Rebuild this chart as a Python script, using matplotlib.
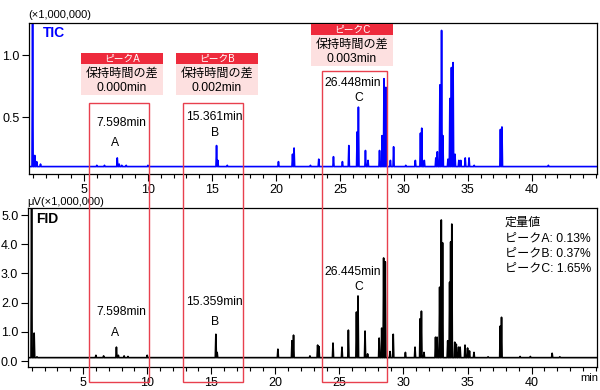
"""
GC-MS (TIC) vs GC-FID chromatogram comparison, retention time of peaks A/B/C.
"""
import matplotlib
matplotlib.use("Agg")
import matplotlib.pyplot as plt
from matplotlib.patches import Rectangle
from matplotlib.ticker import MultipleLocator

plt.rcParams["font.family"] = ["Liberation Sans", "Noto Sans CJK JP", "DejaVu Sans"]

# ── Data ──────────────────────────────────────────────────────────────────────
tic_base = 0.10
tic_times = [0.98, 1.15, 1.3, 1.6, 6.0, 6.6, 7.60, 7.75, 7.95, 8.3, 10.0,
             15.36, 15.46, 16.2, 20.2, 21.3, 21.42, 22.7, 23.35, 24.5, 25.2,
             25.7, 26.35, 26.45, 27.0, 27.2, 28.1, 28.3, 28.45, 28.6, 28.95,
             29.2, 30.15, 30.9, 31.3, 31.4, 31.6, 32.5, 32.62, 32.82, 32.95,
             33.05, 33.45, 33.6, 33.72, 33.85, 34.0, 34.3, 34.45, 34.8, 35.1,
             35.5, 37.55, 37.67, 41.3]
tic_heights = [1.30, 0.19, 0.14, 0.12, 0.11, 0.11, 0.17, 0.12, 0.11, 0.11, 0.11,
               0.27, 0.15, 0.11, 0.14, 0.20, 0.25, 0.11, 0.16, 0.18, 0.14,
               0.27, 0.38, 0.58, 0.23, 0.15, 0.23, 0.35, 0.81, 0.74, 0.15,
               0.26, 0.11, 0.15, 0.37, 0.41, 0.15, 0.17, 0.22, 0.76, 1.20,
               0.35, 0.16, 0.65, 0.90, 0.94, 0.20, 0.15, 0.15, 0.17, 0.17,
               0.11, 0.40, 0.42, 0.11]

fid_base = 0.12
fid_times = [0.98, 1.18, 1.4, 6.0, 6.6, 7.60, 7.75, 8.2, 8.5, 10.0,
             15.36, 15.46, 20.2, 21.3, 21.42, 22.7, 23.3, 23.4, 24.5, 25.2,
             25.7, 26.33, 26.45, 27.0, 27.2, 28.1, 28.3, 28.45, 28.58, 28.95,
             29.2, 30.15, 30.9, 31.3, 31.4, 31.6, 32.5, 32.62, 32.82, 32.95,
             33.05, 33.45, 33.6, 33.68, 33.77, 34.0, 34.12, 34.3, 34.42, 34.8,
             35.0, 35.15, 35.5, 36.6, 37.55, 37.65, 39.1, 39.9, 41.6, 42.2]
fid_heights = [5.40, 0.96, 0.15, 0.20, 0.18, 0.48, 0.20, 0.18, 0.16, 0.20,
               0.92, 0.30, 0.41, 0.70, 0.89, 0.18, 0.55, 0.50, 0.62, 0.48,
               1.06, 1.68, 2.23, 1.03, 0.25, 0.79, 1.13, 3.53, 3.40, 0.33,
               0.92, 0.30, 0.48, 1.45, 1.71, 0.30, 0.82, 0.82, 2.53, 4.83,
               4.05, 0.70, 2.70, 4.08, 4.69, 0.65, 0.58, 0.48, 0.48, 0.55,
               0.45, 0.35, 0.30, 0.15, 1.20, 1.50, 0.16, 0.16, 0.27, 0.15]

peak_names = ["A", "B", "C"]
tic_rt = ["7.598min", "15.361min", "26.448min"]
fid_rt = ["7.598min", "15.359min", "26.445min"]
rt_diff = ["0.000min", "0.002min", "0.003min"]
quant = ["0.13%", "0.37%", "1.65%"]

RED = "#ee2a3c"
PINK = "#fde0e0"
EDGE = "#e8404e"

W, H = 600, 390


def fx(px):
    return px / W


def fy(py):
    return 1 - py / H


def trace(times, heights, base, w=0.045):
    """Stick-style chromatogram: each peak drawn as a narrow spike on the baseline."""
    xs, ys = [0.0], [base]
    for t, h in sorted(zip(times, heights)):
        xs += [t - w, t, t + w]
        ys += [base, h, base]
    xs.append(46.0)
    ys.append(base)
    return xs, ys


def style_axis(ax):
    ax.set_xlim(0.7, 45.1)
    ax.set_xticks([5, 10, 15, 20, 25, 30, 35, 40])
    ax.set_xticklabels(["5", "10", "15", "20", "25", "30", "35", "40"])
    ax.xaxis.set_minor_locator(MultipleLocator(1))
    ax.tick_params(axis="both", which="major", direction="out", length=5,
                   width=0.8, labelsize=9, pad=2)
    ax.tick_params(axis="both", which="minor", direction="out", length=3, width=0.8)
    for s in ax.spines.values():
        s.set_linewidth(0.9)


fig = plt.figure(figsize=(6, 3.9), dpi=100)

# ── TIC panel ─────────────────────────────────────────────────────────────────
ax1 = fig.add_axes([fx(29), fy(174), fx(568), 151 / H])
x, y = trace(tic_times, tic_heights, tic_base)
ax1.plot(x, y, color="#0000ff", lw=1.2)
ax1.set_ylim(0.04, 1.26)
ax1.set_yticks([0.5, 1.0])
ax1.set_yticklabels(["0.5", "1.0"])
style_axis(ax1)

# ── FID panel ─────────────────────────────────────────────────────────────────
ax2 = fig.add_axes([fx(28), fy(367), fx(569), 159 / H])
x, y = trace(fid_times, fid_heights, fid_base)
ax2.plot(x, y, color="black", lw=1.2)
ax2.set_ylim(-0.2, 5.24)
ax2.set_yticks([0, 1, 2, 3, 4, 5])
ax2.set_yticklabels(["0.0", "1.0", "2.0", "3.0", "4.0", "5.0"])
style_axis(ax2)

# ── Axis captions ─────────────────────────────────────────────────────────────
fig.text(fx(28), fy(15), "(×1,000,000)", fontsize=8, va="center", ha="left")
fig.text(fx(27), fy(202), "μV(×1,000,000)", fontsize=8, va="center", ha="left")
fig.text(fx(43), fy(33), "TIC", fontsize=10, fontweight="bold", color="#0000ff",
         va="center", ha="left")
fig.text(fx(36), fy(219), "FID", fontsize=10, fontweight="bold", color="black",
         va="center", ha="left")
fig.text(fx(589), fy(378), "min", fontsize=8, va="center", ha="center")

# ── Peak boxes (spanning both panels) ─────────────────────────────────────────
box_x = [(89, 149), (183, 243), (322, 387)]
box_top = [103, 103, 71]
for (x0, x1), top in zip(box_x, box_top):
    fig.add_artist(Rectangle((fx(x0), fy(382)), fx(x1 - x0), (382 - top) / H,
                             transform=fig.transFigure, fill=False,
                             edgecolor=EDGE, lw=1.0, zorder=5))

# ── Retention-time difference labels ─────────────────────────────────────────
lab_x = [(81, 163), (176, 258), (311, 393)]
lab_top = [53, 53, 24]
for (x0, x1), top, name, diff in zip(lab_x, lab_top, peak_names, rt_diff):
    cx = (x0 + x1) / 2
    fig.add_artist(Rectangle((fx(x0), fy(top + 11)), fx(x1 - x0), 11 / H,
                             transform=fig.transFigure, facecolor=RED,
                             edgecolor="none", zorder=4))
    fig.add_artist(Rectangle((fx(x0), fy(top + 42)), fx(x1 - x0), 31 / H,
                             transform=fig.transFigure, facecolor=PINK,
                             edgecolor="none", zorder=4))
    fig.text(fx(cx), fy(top + 5.5), "ピーク" + name, fontsize=7, color="white",
             ha="center", va="center", zorder=6)
    fig.text(fx(cx), fy(top + 21), "保持時間の差", fontsize=8.7,
             ha="center", va="center", zorder=6)
    fig.text(fx(cx), fy(top + 35), diff, fontsize=8.7,
             ha="center", va="center", zorder=6)

# ── Retention times above the peaks ──────────────────────────────────────────
rt_cx = [121, 214, 353]
let_cx = [115.5, 215, 359]
tic_rt_y = [123, 117, 83]
tic_let_y = [143, 133, 98]
fid_rt_y = [312, 302, 272]
fid_let_y = [333, 322, 287]
for i in range(3):
    fig.text(fx(rt_cx[i]), fy(tic_rt_y[i]), tic_rt[i], fontsize=8.7,
             ha="center", va="center", zorder=6)
    fig.text(fx(let_cx[i]), fy(tic_let_y[i]), peak_names[i], fontsize=8.7,
             ha="center", va="center", zorder=6)
    fig.text(fx(rt_cx[i]), fy(fid_rt_y[i]), fid_rt[i], fontsize=8.7,
             ha="center", va="center", zorder=6)
    fig.text(fx(let_cx[i]), fy(fid_let_y[i]), peak_names[i], fontsize=8.7,
             ha="center", va="center", zorder=6)

# ── Quantitative values ───────────────────────────────────────────────────────
fig.text(fx(505), fy(223), "定量値", fontsize=8.7, ha="left", va="center")
for i, (name, q) in enumerate(zip(peak_names, quant)):
    fig.text(fx(505), fy(238 + 15 * i), f"ピーク{name}: {q}", fontsize=8.7,
             ha="left", va="center")

fig.savefig("out.png", dpi=100)
